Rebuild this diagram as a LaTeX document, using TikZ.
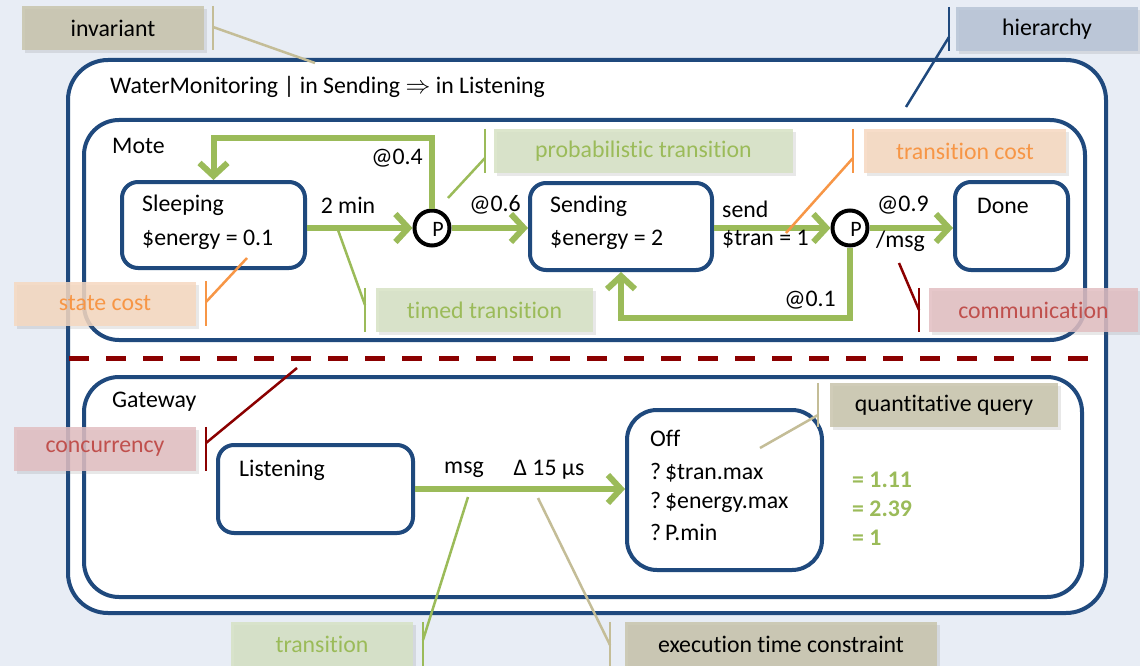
\documentclass[tikz,border=0pt]{standalone}
\usepackage{fontspec}
\setmainfont[Ligatures=NoCommon]{Carlito}
\usetikzlibrary{arrows.meta,shadows}
\definecolor{bg}{RGB}{232,237,245}
\definecolor{dblue}{RGB}{31,73,125}
\definecolor{lgreen}{RGB}{155,187,89}
\definecolor{dred}{RGB}{139,0,0}
\definecolor{tanline}{RGB}{196,189,151}
\definecolor{tanfill}{RGB}{200,196,172}
\definecolor{bluefill}{RGB}{183,196,214}
\definecolor{greenfill}{RGB}{214,226,196}
\definecolor{peachfill}{RGB}{246,216,192}
\definecolor{orangetxt}{RGB}{247,150,70}
\definecolor{pinkfill}{RGB}{226,190,193}
\definecolor{redtxt}{RGB}{192,80,77}
\newcommand{\fsz}{\fontsize{23.8}{28}\selectfont}
\begin{document}
\begin{tikzpicture}[x=1pt,y=-1pt,
  container/.style={draw=dblue, line width=4pt, fill=white, inner sep=0pt, rounded corners=#1},
  state/.style={draw=dblue, line width=4pt, fill=white, inner sep=0pt, rounded corners=16pt},
  pnode/.style={circle, draw=black, line width=4pt, fill=white, minimum size=35pt, inner sep=0pt},
  txt/.style={anchor=west, inner sep=0pt, font=\fsz},
  lbl/.style={inner sep=0pt, font=\fsz},
  res/.style={anchor=west, inner sep=0pt, font=\fsz\bfseries, text=lgreen},
  garrow/.style={draw=lgreen, line width=6pt, line join=miter, -{Straight Barb[length=13pt,width=28pt]}},
  callout/.style={inner sep=0pt, minimum height=44pt, font=\fsz, fill=#1, fill opacity=0.85, text opacity=1,
     drop shadow={shadow xshift=3pt, shadow yshift=-3pt, opacity=0.15, fill=black!60}},
  brk/.style={draw=#1, line width=2.5pt}
]
\useasboundingbox (0,0) rectangle (1140,666);
\fill[bg] (0,0) rectangle (1140,666);

% containers
\node[container=40pt, minimum width=1038pt, minimum height=553pt] (outer) at (587,336.5) {};
\node[txt] (title) at (110,87) {WaterMonitoring | in Sending $\Rightarrow$ in Listening};
\node[container=35pt, minimum width=1001pt, minimum height=220pt] (mote) at (584.5,230) {};
\node[txt] (motet) at (112,146) {Mote};
\node[container=35pt, minimum width=998pt, minimum height=220pt] (gw) at (583,487) {};
\node[txt] (gwt) at (112,402) {Gateway};
\coordinate (dashA) at (69,358);
\coordinate (dashB) at (1098,358);
\draw[dred, line width=5pt, dash pattern=on 20pt off 17pt] (dashA) -- (dashB);

% states
\node[state, minimum width=183pt, minimum height=86pt] (sl) at (213.5,225) {};
\node[txt] (slt1) at (142,205) {Sleeping};
\node[txt] (slt2) at (142,240) {\$energy = 0.1};
\node[state, minimum width=182pt, minimum height=87pt] (se) at (621,226.5) {};
\node[txt] (set1) at (550,206) {Sending};
\node[txt] (set2) at (550,240) {\$energy = 2};
\node[state, minimum width=113pt, minimum height=88pt] (dn) at (1011.5,226) {};
\node[txt] (dnt) at (977,206) {Done};
\node[state, minimum width=195pt, minimum height=88pt] (li) at (315.5,489) {};
\node[txt] (lit) at (239,470) {Listening};
\node[state, rounded corners=30pt, minimum width=195pt, minimum height=160pt] (off) at (724.5,490) {};
\node[txt] (offt) at (650,438) {Off};
\node[txt] (q1) at (650,473) {?\,\$tran.max};
\node[txt] (q2) at (650,502) {?\,\$energy.max};
\node[txt] (q3) at (650,532) {?\,P.min};
\node[res] (r1) at (852,480) {= 1.11};
\node[res] (r2) at (852,509) {= 2.39};
\node[res] (r3) at (852,538) {= 1};

% probabilistic choice points
\node[pnode] (p1) at (432,228) {};
\node[inner sep=0pt, font=\fontsize{22}{26}\selectfont] (p1t) at (438,229) {P};
\node[pnode] (p2) at (850,228) {};
\node[inner sep=0pt, font=\fontsize{22}{26}\selectfont] (p2t) at (856,229) {P};

% transitions
\coordinate (loopT) at (0,138);
\coordinate (loopB) at (0,318);
\draw[garrow] (sl.east |- p1.west) -- (p1.west);
\draw[garrow] (p1.north) -- (p1.north |- loopT) -- (sl.north |- loopT) -- (sl.north);
\draw[garrow] (p1.east) -- (se.west |- p1.east);
\draw[garrow] (se.east |- p2.west) -- (p2.west);
\draw[garrow] (p2.east) -- (dn.west |- p2.east);
\draw[garrow] (p2.south) -- (p2.south |- loopB) -- (se.south |- loopB) -- (se.south);
\draw[garrow] (li.east) -- (off.west |- li.east);

\node[lbl] (l2min) at (348,205) {2 min};
\node[lbl, anchor=east] (l04) at (423,158) {@0.4};
\node[lbl] (l06) at (495,205) {@0.6};
\node[txt] (lsend) at (722,209) {send};
\node[txt] (ltran) at (722,239) {\$tran = 1};
\node[txt] (l09) at (877,205) {@0.9};
\node[txt] (lmsg) at (876,241) {/msg};
\node[lbl, anchor=east] (l01) at (836,300) {@0.1};
\node[lbl] (lmsg2) at (464,470) {msg};
\node[lbl] (ldelta) at (549,470) {Δ 15 µs};

% callouts
\node[callout=tanfill, minimum width=182pt] (inv) at (113,28) {invariant};
\coordinate (invA) at (213,27); \coordinate (invT) at (315,63);
\draw[brk=tanline] (inv.north east -| invA) -- (inv.south east -| invA);
\draw[brk=tanline] (invA) -- (invT);

\node[callout=bluefill, minimum width=182pt] (hier) at (1047,29) {hierarchy};
\coordinate (hierA) at (949,37); \coordinate (hierT) at (906,107);
\draw[brk=dblue] (hier.north west -| hierA) -- (hier.south west -| hierA);
\draw[brk=dblue] (hierA) -- (hierT);

\node[callout=greenfill, minimum width=299pt, text=lgreen] (prob) at (643.5,151) {probabilistic transition};
\coordinate (probA) at (485,158); \coordinate (probT) at (448,198);
\draw[brk=lgreen] (prob.north west -| probA) -- (prob.south west -| probA);
\draw[brk=lgreen] (probA) -- (probT);

\node[callout=peachfill, minimum width=202pt, text=orangetxt] (tcost) at (965,151) {transition cost};
\coordinate (tcostA) at (853,158); \coordinate (tcostT) at (786,233);
\draw[brk=orangetxt] (tcost.north west -| tcostA) -- (tcost.south west -| tcostA);
\draw[brk=orangetxt] (tcostA) -- (tcostT);

\node[callout=peachfill, minimum width=182pt, text=orangetxt] (scost) at (105,303.5) {state cost};
\coordinate (scostA) at (206,302); \coordinate (scostT) at (247,258);
\draw[brk=orangetxt] (scost.north east -| scostA) -- (scost.south east -| scostA);
\draw[brk=orangetxt] (scostA) -- (scostT);

\node[callout=greenfill, minimum width=217pt, text=lgreen] (timed) at (484.5,310) {timed transition};
\coordinate (timedA) at (365,305); \coordinate (timedT) at (338,230);
\draw[brk=lgreen] (timed.north west -| timedA) -- (timed.south west -| timedA);
\draw[brk=lgreen] (timedA) -- (timedT);

\node[callout=pinkfill, minimum width=209pt, text=redtxt] (comm) at (1033.5,310) {communication};
\coordinate (commA) at (919,310); \coordinate (commT) at (899,263);
\draw[brk=dred] (comm.north west -| commA) -- (comm.south west -| commA);
\draw[brk=dred] (commA) -- (commT);

\node[callout=pinkfill, minimum width=182pt, text=redtxt] (conc) at (105,449) {concurrency};
\coordinate (concA) at (206,443); \coordinate (concT) at (297,368);
\draw[brk=dred] (conc.north east -| concA) -- (conc.south east -| concA);
\draw[brk=dred] (concA) -- (concT);

\node[callout=greenfill, minimum width=182pt, text=lgreen] (trans) at (322,644) {transition};
\coordinate (transA) at (423,640); \coordinate (transT) at (468,497);
\draw[brk=lgreen] (trans.north east -| transA) -- (trans.south east -| transA);
\draw[brk=lgreen] (transA) -- (transT);

\node[callout=tanfill, minimum width=312pt] (exec) at (781,644) {execution time constraint};
\coordinate (execA) at (610,645); \coordinate (execT) at (538,498);
\draw[brk=tanline] (exec.north west -| execA) -- (exec.south west -| execA);
\draw[brk=tanline] (execA) -- (execT);

\node[callout=tanfill, minimum width=228pt] (quant) at (944,405) {quantitative query};
\coordinate (quantA) at (818,415); \coordinate (quantT) at (760,448);
\draw[brk=tanline] (quant.north west -| quantA) -- (quant.south west -| quantA);
\draw[brk=tanline] (quantA) -- (quantT);
\end{tikzpicture}
\end{document}
